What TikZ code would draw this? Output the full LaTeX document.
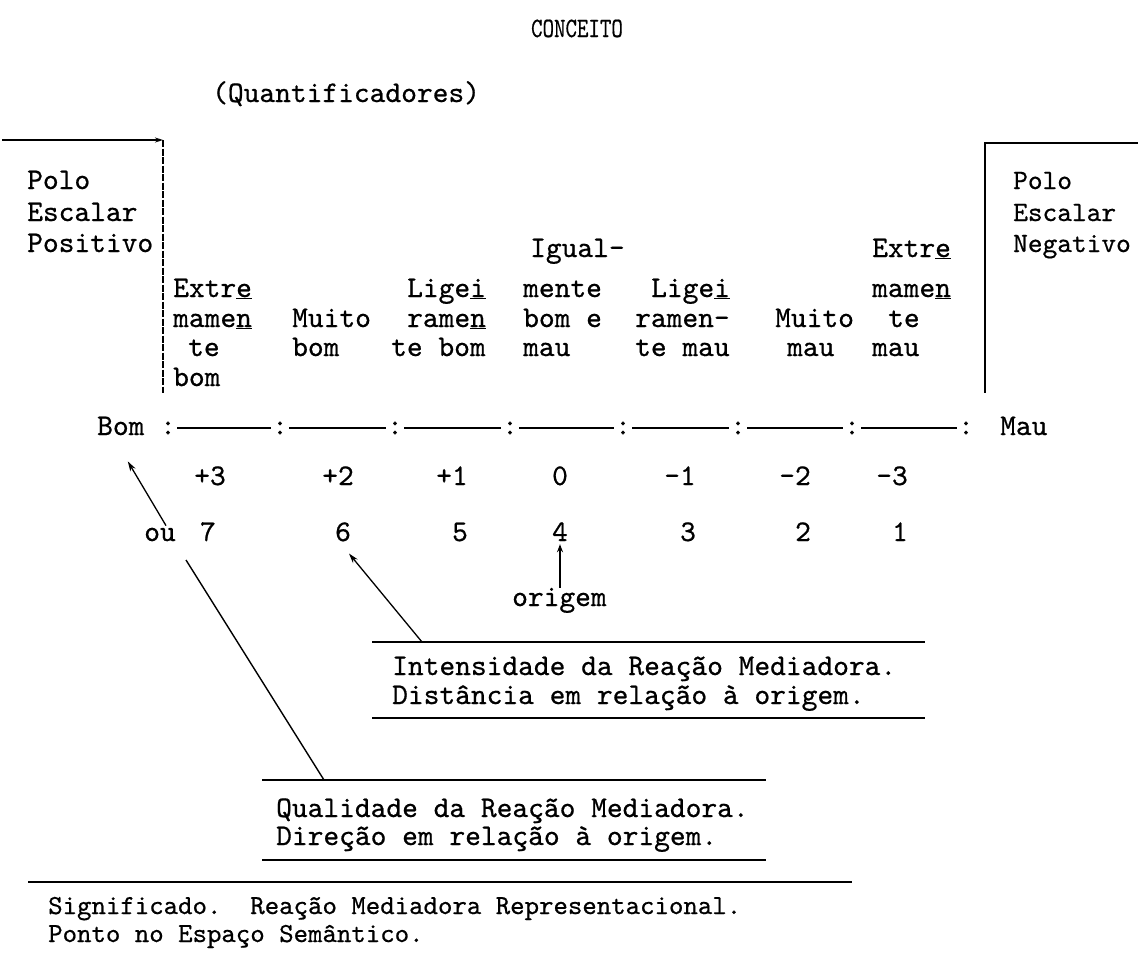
\documentclass[tikz,border=0pt]{standalone}
\usepackage{fontspec}
\usetikzlibrary{arrows.meta}
\newfontfamily\tw{lmmono10-regular.otf}[FakeBold=0.6]
\newcommand\fA{\tw\fontsize{30}{34}\selectfont}
\newcommand\fR{\tw\fontsize{28}{32}\selectfont}
\newcommand\fS{\tw\fontsize{27.5}{32}\selectfont}
\newcommand\fT{\tw\fontsize{28}{32}\selectfont}
\begin{document}
\begin{tikzpicture}[x=1pt,y=-1pt,
  txt/.style={inner sep=0pt, anchor=base west},
  lab/.style={txt, font=\fA},
  rlab/.style={txt, font=\fR},
  num/.style={inner sep=0pt, anchor=base, font=\fA},
  colon/.style={inner sep=1pt, font=\fA},
  rule/.style={line width=1.4pt},
  arr/.style={line width=1.3pt, -{Stealth[length=10pt,width=6pt]}}
]
\useasboundingbox (0,0) rectangle (1138,959);
% title
\node[inner sep=0pt, anchor=base, font=\fT, xscale=0.78] (title) at (577,37) {CONCEITO};
\node[lab] (quant) at (212,102) {(Quantificadores)};
% left pole frame
\coordinate (tl) at (2,140);
\coordinate (tlc) at (163,140);
\coordinate (tlb) at (163,393);
\draw[arr, -{Stealth[length=8pt,width=5pt]}] (tl) -- (tlc);
\draw[line width=1.3pt, dash pattern=on 7pt off 1.5pt] (tlc) -- (tlb);
% right pole frame
\coordinate (tr) at (1138,143);
\coordinate (trc) at (985,143);
\coordinate (trb) at (985,393);
\draw[rule] (tr) -- (trc) -- (trb);
% pole labels
\node[lab] (pl1) at (27,189) {Polo};
\node[lab] (pl2) at (27,221) {Escalar};
\node[lab] (pl3) at (27,252) {Positivo};
\node[rlab] (pr1) at (1013,189) {Polo};
\node[rlab] (pr2) at (1013,221) {Escalar};
\node[rlab] (pr3) at (1013,252) {Negativo};
% column labels
\node[lab] (a1) at (173,297) {Extr\underline{e}};
\node[lab] (a2) at (173,327) {mame\underline{n}};
\node[lab] (a3) at (188,356) {te};
\node[lab] (a4) at (173,386) {bom};
\node[lab] (b1) at (292,327) {Muito};
\node[lab] (b2) at (292,356) {bom};
\node[lab] (c1) at (407,297) {Lige\underline{i}};
\node[lab] (c2) at (407,327) {rame\underline{n}};
\node[lab] (c3) at (391,356) {te bom};
\node[lab] (d1) at (530,257) {Igual-};
\node[lab] (d2) at (523,297) {mente};
\node[lab] (d3) at (523,327) {bom e};
\node[lab] (d4) at (523,356) {mau};
\node[lab] (e1) at (651,297) {Lige\underline{i}};
\node[lab] (e2) at (635,327) {ramen-};
\node[lab] (e3) at (635,356) {te mau};
\node[lab] (f1) at (775,327) {Muito};
\node[lab] (f2) at (787,356) {mau};
\node[lab] (g1) at (872,257) {Extr\underline{e}};
\node[lab] (g2) at (872,297) {mame\underline{n}};
\node[lab] (g3) at (888,327) {te};
\node[lab] (g4) at (872,356) {mau};
% scale line
\node[lab] (bom) at (97,435) {Bom};
\node[lab] (mau) at (1000,435) {Mau};
\foreach \i/\x in {0/168,1/280,2/395,3/510,4/623,5/738,6/852,7/966}
  \node[colon] (k\i) at (\x,428) {:};
\foreach \i/\j in {0/1,1/2,2/3,3/4,4/5,5/6,6/7}
  \draw[line width=1.2pt] (k\i) -- (k\j);
% numbers
\node[num] (p3) at (210,485) {+3};
\node[num] (p2) at (338,485) {+2};
\node[num] (p1) at (452,485) {+1};
\node[num] (z0) at (560,485) {0};
\node[num] (m1) at (680,485) {-1};
\node[num] (m2) at (795,485) {-2};
\node[num] (m3) at (892,485) {-3};
\node[num] (ou) at (160,541) {ou};
\node[num] (n7) at (208,541) {7};
\node[num] (n6) at (343,541) {6};
\node[num] (n5) at (460,541) {5};
\node[num] (n4) at (560,541) {4};
\node[num] (n3) at (688,541) {3};
\node[num] (n2) at (803,541) {2};
\node[num] (n1) at (900,541) {1};
\node[lab] (orig) at (512,606) {origem};
\draw[arr, -{Stealth[length=8pt,width=6pt]}] (orig.north -| n4) -- ([yshift=-3pt]n4.south);
% boxes
\coordinate (i1) at (372,642); \coordinate (i2) at (925,642);
\coordinate (i3) at (372,718); \coordinate (i4) at (925,718);
\draw[rule] (i1) -- (i2); \draw[rule] (i3) -- (i4);
\node[lab] (int1) at (392,675) {Intensidade da Reação Mediadora.};
\node[lab] (int2) at (392,704) {Distância em relação à origem.};
\coordinate (q1) at (262,780); \coordinate (q2) at (766,780);
\coordinate (q3) at (262,860); \coordinate (q4) at (766,860);
\draw[rule] (q1) -- (q2); \draw[rule] (q3) -- (q4);
\node[lab] (qua1) at (276,817) {Qualidade da Reação Mediadora.};
\node[lab] (qua2) at (276,845) {Direção em relação à origem.};
\coordinate (s1) at (28,882); \coordinate (s2) at (852,882);
\draw[rule] (s1) -- (s2);
\node[txt, font=\fS] (sig1) at (48,914) {Significado.~~Reação Mediadora Representacional.};
\node[txt, font=\fS] (sig2) at (48,942) {Ponto no Espaço Semântico.};
% connectors
\coordinate (ia) at (422,642);
\coordinate (qa) at (324,780);
\coordinate (lt) at (186,560);
\draw[arr] (ia) -- ([shift={(6pt,-12pt)}]n6.south);
\draw[rule] (qa) -- (lt);
\draw[arr] ([shift={(6pt,2pt)}]ou.north) -- ([shift={(7pt,-26pt)}]bom.south);
\end{tikzpicture}
\end{document}
